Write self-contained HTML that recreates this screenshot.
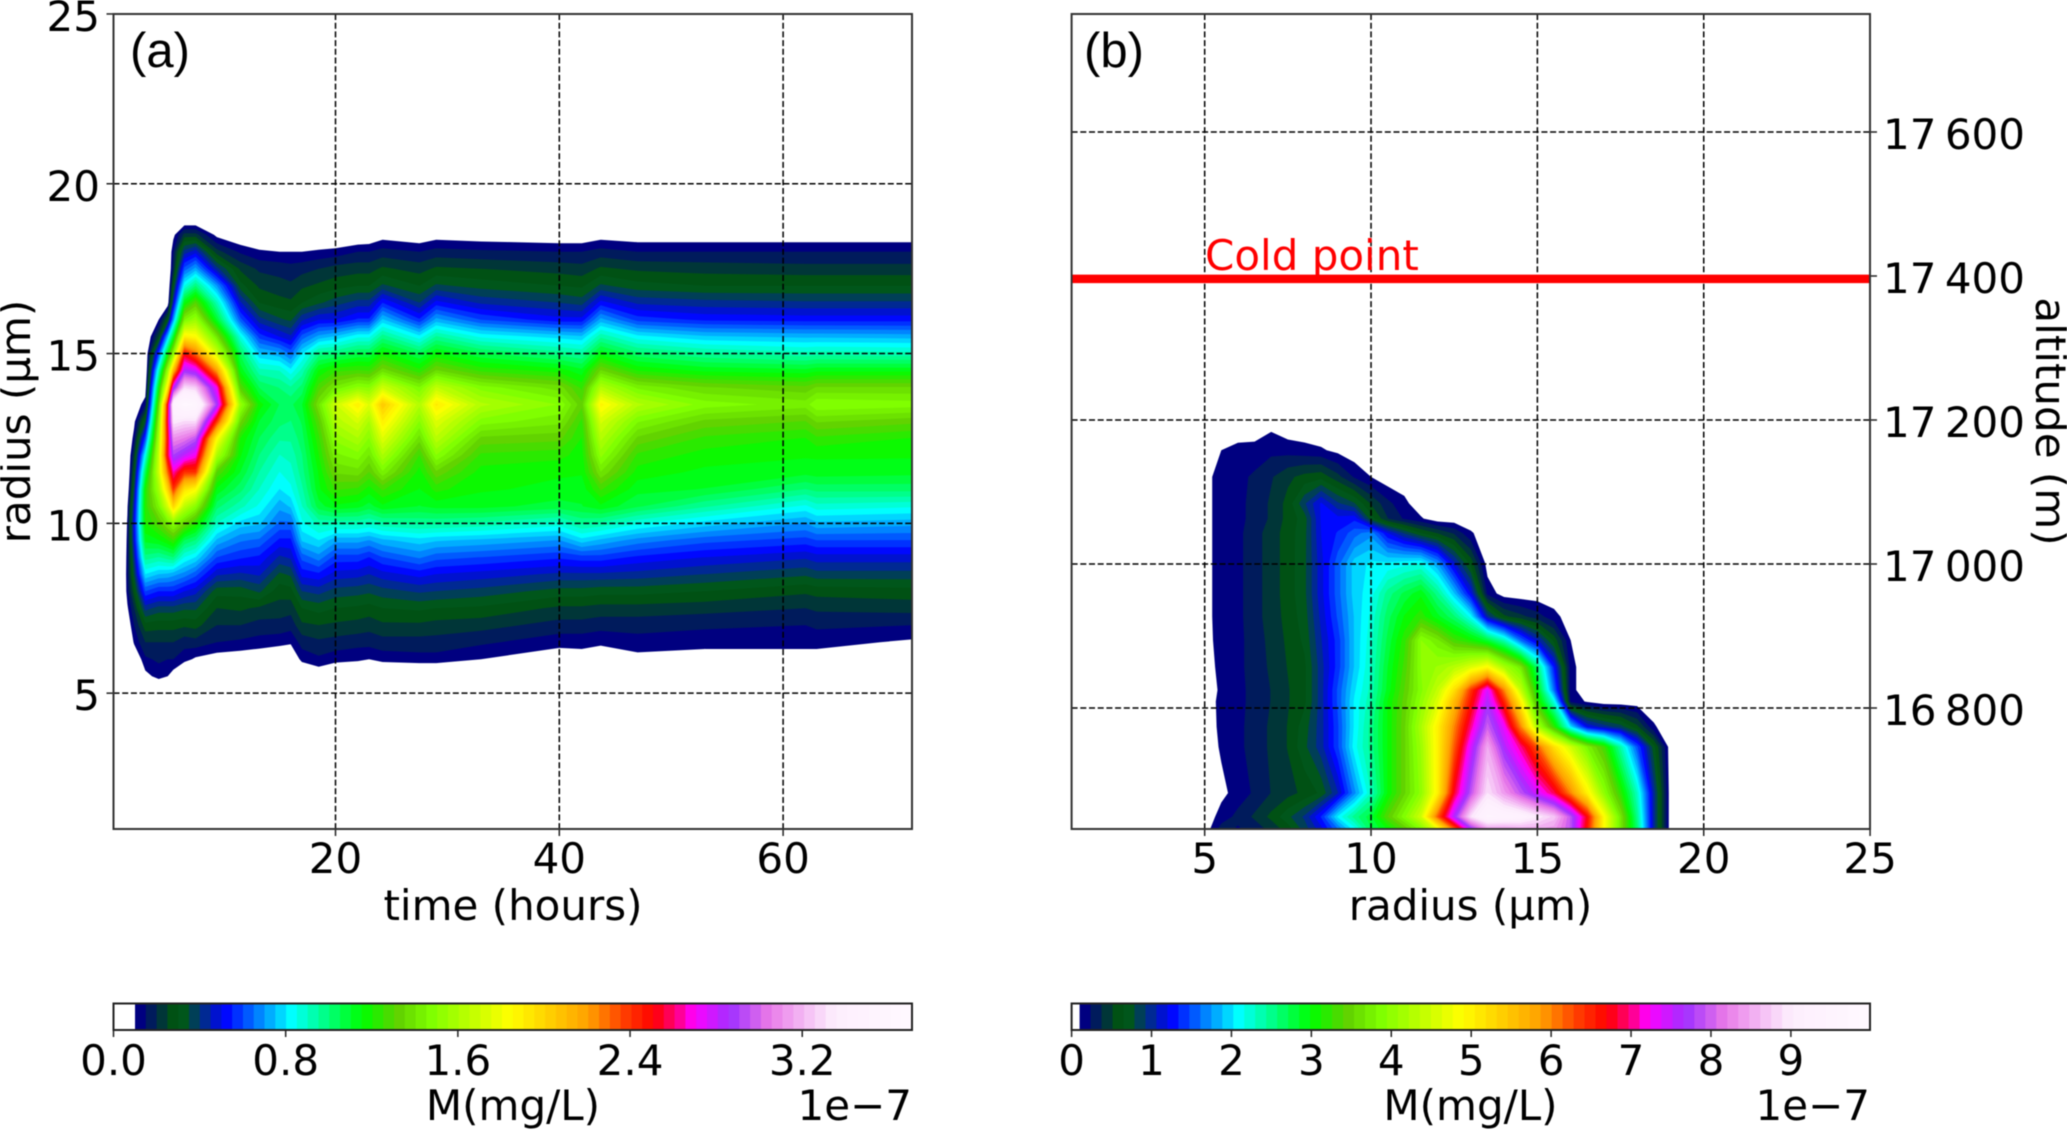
<!DOCTYPE html>
<html lang="en">
<head>
<meta charset="utf-8">
<title>Mass concentration contours</title>
<style>
html,body{margin:0;padding:0;background:#fff;}
svg{display:block;filter:blur(0.5px);}
text{font-family:"DejaVu Sans","Liberation Sans",sans-serif;font-size:42px;fill:#000;}
text.panel{font-family:"Liberation Sans",sans-serif;font-size:49px;}
</style>
</head>
<body>
<svg id="fig" xmlns="http://www.w3.org/2000/svg" width="2067" height="1130" viewBox="0 0 2067 1130">
<rect x="0" y="0" width="2067" height="1130" fill="#fff"/>
<defs>
<clipPath id="clip-a"><rect x="113.5" y="14" width="798.5" height="815"/></clipPath>
<clipPath id="clip-b"><rect x="1071.6" y="14" width="798.4" height="815"/></clipPath>
</defs>
<g id="plot-a" clip-path="url(#clip-a)"></g>
<g id="plot-b" clip-path="url(#clip-b)"></g>
<g id="overlay"></g>
<text class="panel" x="130" y="67">(a)</text>
<text class="panel" x="1084" y="67">(b)</text>
<text x="1205" y="270" fill="#ff0000" style="fill:#ff0000">Cold point</text>
<text x="513" y="920" text-anchor="middle">time (hours)</text>
<text x="1470.5" y="920" text-anchor="middle">radius (µm)</text>
<text transform="translate(30,421.5) rotate(-90)" text-anchor="middle">radius (µm)</text>
<text transform="translate(2036,421.5) rotate(90)" text-anchor="middle">altitude (m)</text>
<text x="513" y="1120" text-anchor="middle">M(mg/L)</text>
<text x="1470.5" y="1120" text-anchor="middle">M(mg/L)</text>
<text x="912" y="1120" text-anchor="end">1e−7</text>
<text x="1870" y="1120" text-anchor="end">1e−7</text>
</svg>
<script>
// ---------- Panel (a) data: M (1e-7 mg/L) by time column, radius row ----------
const radiiA = [5.5,6,6.5,7,7.5,8,8.5,9,9.5,10,10.5,11,11.5,12,12.5,13,13.5,14,14.5,15,15.5,16,16.5,17,17.5,18,18.5,19];
const timesA = [1,1.4,2,3,4.2,5,5.5,6.5,7.5,9.4,11.5,13.2,15,16,17,18.5,20,22,23,24.2,27.5,29,33,40,42,43.7,47,53,62,63,71.5];
const massA = [
[0,0,0,0,0,0,0,0,0,0,0,0,0,0,0,0,0,0,0,0,0,0,0,0,0,0,0,0],
[0,0,0,.05,.09,.13,.14,.13,.12,.11,.09,.03,0,0,0,0,0,0,0,0,0,0,0,0,0,0,0,0],
[0,.03,.11,.15,.2,.28,.36,.42,.48,.5,.45,.38,.3,.22,.13,.08,.03,0,0,0,0,0,0,0,0,0,0,0],
[.08,.14,.2,.28,.42,.6,.8,.98,1.12,1.2,1.22,1.2,1.05,.85,.6,.35,.14,.05,0,0,0,0,0,0,0,0,0,0],
[.12,.16,.2,.27,.38,.55,.75,.95,1.15,1.3,1.45,1.58,1.7,1.68,1.6,1.5,1.35,1.15,.9,.6,.25,.1,0,0,0,0,0,0],
[.1,.15,.2,.27,.38,.55,.74,.98,1.2,1.42,1.72,2.0,2.3,2.55,2.5,2.55,2.5,1.9,1.55,1.15,.75,.3,.05,0,0,0,0,0],
[.07,.15,.2,.27,.38,.55,.72,1.0,1.25,1.5,2.0,2.4,2.65,2.9,3.1,3.35,3.5,2.8,2.1,1.5,1.1,.7,.45,.3,.18,.15,.08,0],
[0,.12,.17,.26,.36,.5,.68,.85,1.05,1.35,1.65,1.95,2.4,2.8,3.05,3.3,3.65,3.3,2.85,2.5,1.9,1.45,1.15,.85,.62,.42,.22,0],
[0,.09,.18,.27,.36,.47,.62,.8,1.0,1.22,1.5,1.85,2.4,2.7,2.95,3.3,3.6,3.25,2.78,2.3,1.85,1.55,1.3,1.0,.72,.48,.22,0],
[0,.07,.15,.2,.25,.32,.46,.6,.74,.9,1.02,1.14,1.3,1.6,1.85,2.4,2.88,2.7,2.2,1.7,1.4,1.1,.92,.7,.42,.22,.08,0],
[0,.06,.14,.2,.26,.32,.44,.56,.66,.78,.92,1.02,1.1,1.16,1.2,1.36,1.55,1.3,1.14,1.04,.86,.62,.46,.32,.24,.14,.04,0],
[0,.05,.13,.18,.24,.36,.46,.54,.64,.76,.84,.9,.95,1.0,1.05,1.1,1.18,1.05,.92,.76,.58,.42,.3,.24,.19,.11,.02,0],
[0,.03,.12,.18,.23,.27,.34,.44,.54,.64,.72,.8,.85,.9,.96,1.02,1.05,1.0,.9,.72,.5,.36,.27,.22,.18,.1,.02,0],
[0,.03,.11,.17,.22,.28,.36,.46,.54,.64,.76,.84,.88,.92,.96,1.0,1.04,.96,.82,.64,.46,.34,.26,.21,.17,.1,.02,0],
[0,.12,.17,.24,.3,.4,.52,.62,.76,.84,.9,.94,.98,1.0,1.03,1.06,1.1,1.02,.92,.8,.62,.44,.3,.24,.18,.1,.02,0],
[.05,.14,.19,.25,.32,.42,.54,.68,.8,.92,1.08,1.14,1.16,1.2,1.24,1.3,1.4,1.28,1.16,.98,.72,.5,.34,.26,.2,.11,.02,0],
[.02,.12,.18,.24,.3,.38,.48,.58,.72,.92,1.14,1.26,1.36,1.44,1.52,1.62,1.7,1.42,1.24,1.0,.76,.5,.38,.28,.22,.12,.02,0],
[.02,.11,.17,.23,.29,.37,.47,.58,.72,.92,1.12,1.24,1.38,1.48,1.6,1.72,1.9,1.52,1.26,1.06,.84,.56,.42,.3,.23,.15,.03,0],
[.03,.1,.17,.22,.28,.36,.45,.55,.7,.9,1.08,1.18,1.3,1.4,1.5,1.6,1.75,1.5,1.25,1.06,.84,.56,.42,.3,.23,.15,.04,0],
[0,.12,.18,.24,.3,.38,.48,.6,.74,.94,1.14,1.26,1.44,1.6,1.75,1.9,2.05,1.7,1.38,1.18,.98,.76,.55,.36,.26,.17,.07,0],
[0,.13,.18,.24,.31,.41,.52,.66,.78,.96,1.1,1.15,1.18,1.25,1.38,1.5,1.62,1.46,1.22,1.05,.82,.56,.4,.3,.23,.15,.05,0],
[0,.13,.18,.23,.3,.4,.5,.62,.76,.96,1.12,1.22,1.34,1.5,1.64,1.75,1.92,1.66,1.36,1.16,.96,.72,.52,.36,.26,.17,.07,0],
[0,.1,.16,.22,.29,.38,.48,.6,.74,.94,1.12,1.16,1.18,1.24,1.34,1.48,1.62,1.48,1.24,1.06,.84,.6,.44,.33,.25,.16,.06,0],
[0,.06,.12,.18,.24,.33,.44,.56,.7,.88,1.08,1.14,1.16,1.22,1.32,1.42,1.5,1.38,1.18,.98,.78,.52,.4,.3,.23,.15,.05,0],
[0,.07,.12,.18,.24,.33,.44,.58,.78,.96,1.1,1.12,1.16,1.18,1.2,1.24,1.32,1.24,1.12,.95,.76,.52,.38,.29,.22,.15,.05,0],
[0,.06,.11,.17,.23,.32,.44,.58,.74,.94,1.14,1.26,1.4,1.52,1.62,1.72,1.88,1.62,1.36,1.14,.94,.72,.52,.36,.26,.17,.07,0],
[0,.08,.13,.17,.23,.32,.43,.54,.68,.86,1.06,1.12,1.18,1.24,1.34,1.46,1.62,1.44,1.2,1.02,.82,.58,.44,.32,.24,.15,.06,0],
[0,.07,.12,.16,.22,.3,.4,.5,.62,.78,.96,1.1,1.14,1.18,1.24,1.34,1.48,1.36,1.14,.96,.76,.54,.42,.3,.23,.15,.06,0],
[0,.07,.12,.15,.2,.26,.36,.46,.58,.7,.84,1.0,1.12,1.16,1.2,1.3,1.43,1.32,1.12,.92,.74,.53,.41,.3,.22,.15,.06,0],
[0,.07,.12,.16,.21,.27,.38,.48,.6,.74,.88,1.02,1.13,1.16,1.24,1.36,1.5,1.36,1.14,.93,.74,.53,.41,.3,.22,.15,.06,0],
[0,.03,.09,.15,.22,.28,.38,.48,.6,.72,.86,1.02,1.12,1.16,1.2,1.32,1.48,1.36,1.14,.92,.73,.53,.41,.3,.22,.15,.06,0]
];
// ---------- Panel (b) data: M (1e-7 mg/L) by altitude row, radius column ----------
const radiiB = [5,5.5,6,6.5,7,7.5,8,8.5,9,9.5,10,10.5,11,11.5,12,12.5,13,13.5,14,14.5,15,15.5,16,16.5,17,17.5,18,18.5,19];
const altitudesB = [16632,16649,16682,16746,16774,16809,16825,16857,16894,16927,16959,17001,17043,17063,17084,17121,17158,17186,17210];
const massB = [
[0,.3,.22,.3,.42,.58,.85,1.15,1.6,2.1,2.7,3.0,3.4,3.9,4.7,6.2,7.6,8.4,8.4,8.5,8.5,8.4,7.9,6.6,4.9,3.7,2.6,1.0,0],
[0,.16,.28,.4,.55,.75,.95,1.35,2.05,2.5,2.8,3.4,3.9,4.5,6.2,7.6,8.9,9.5,9.4,9.3,9.0,8.7,7.9,6.7,4.9,3.7,2.5,1.0,0],
[0,.06,.16,.26,.38,.46,.55,.68,1.05,1.7,2.3,3.0,3.5,4.0,5.0,6.8,7.9,8.9,8.4,7.9,7.4,6.9,6.0,5.0,4.0,3.2,2.3,1.0,0],
[0,.12,.2,.3,.4,.52,.75,1.0,1.45,2.1,2.5,3.0,3.5,4.1,5.0,6.2,7.4,8.5,7.6,7.0,6.2,5.2,4.5,3.8,3.3,2.4,1.5,.7,0],
[0,.14,.2,.3,.4,.52,.72,1.0,1.45,2.05,2.5,3.0,3.5,4.2,5.0,6.0,7.0,8.0,7.3,6.0,4.2,3.2,2.0,1.2,1.0,.85,.55,.12,0],
[0,.15,.2,.28,.38,.5,.62,1.0,1.5,2.05,2.4,3.0,3.45,4.0,4.6,5.6,6.6,7.6,6.5,5.0,3.2,2.2,.2,.08,0,0,0,0,0],
[0,.13,.2,.28,.38,.5,.62,1.0,1.5,2.0,2.35,2.9,3.4,3.9,4.4,5.2,6.4,7.4,6.0,4.4,3.0,1.6,.15,0,0,0,0,0,0],
[0,.16,.2,.3,.4,.52,.62,1.0,1.4,1.9,2.3,2.85,3.3,3.95,4.1,4.3,4.6,4.9,4.2,3.7,2.6,1.3,.15,0,0,0,0,0,0],
[0,.2,.2,.3,.42,.54,.68,1.05,1.4,1.9,2.25,2.75,3.2,3.95,3.7,3.3,3.1,2.8,2.35,1.6,1.1,.6,.1,0,0,0,0,0,0],
[0,.22,.2,.32,.44,.56,.72,1.1,1.5,1.9,2.2,2.65,3.0,3.2,2.9,2.6,2.1,1.0,.55,.42,.3,.15,.02,0,0,0,0,0,0],
[0,.22,.2,.32,.44,.58,.75,1.15,1.55,1.95,2.1,2.5,2.75,2.95,2.5,1.9,1.2,.2,.02,0,0,0,0,0,0,0,0,0,0],
[0,.22,.2,.32,.44,.58,.75,1.15,1.55,1.95,2.05,2.05,2.1,2.15,1.75,1.1,.6,.02,0,0,0,0,0,0,0,0,0,0,0],
[0,.22,.2,.32,.44,.58,.74,1.2,1.35,1.55,1.7,1.2,.9,.65,.5,.35,.12,0,0,0,0,0,0,0,0,0,0,0,0],
[0,.22,.2,.28,.4,.56,.72,1.22,1.25,1.3,.72,.38,.22,.12,0,0,0,0,0,0,0,0,0,0,0,0,0,0,0],
[0,.22,.2,.28,.4,.56,.9,1.22,.95,.8,.5,.28,.14,0,0,0,0,0,0,0,0,0,0,0,0,0,0,0,0],
[0,.22,.2,.26,.36,.48,.56,.6,.42,.22,.1,0,0,0,0,0,0,0,0,0,0,0,0,0,0,0,0,0,0],
[0,.1,.13,.16,.2,.18,.15,.12,.06,0,0,0,0,0,0,0,0,0,0,0,0,0,0,0,0,0,0,0,0],
[0,0,.05,.02,.09,.03,.02,0,0,0,0,0,0,0,0,0,0,0,0,0,0,0,0,0,0,0,0,0,0],
[0,0,0,0,0,0,0,0,0,0,0,0,0,0,0,0,0,0,0,0,0,0,0,0,0,0,0,0,0]
];
// ---------- Axis ticks and labels ----------
const timeTicksA = [20,40,60];
const radiusTicksA = [5,10,15,20,25];
const radiusTicksB = [5,10,15,20,25];
const altitudeTicksB = [16800,17000,17200,17400,17600];
const altitudeLabelsB = ["16\u2009800","17\u2009000","17\u2009200","17\u2009400","17\u2009600"];
const coldPointAltitude = 17396;
const barTicksA = [0,0.8,1.6,2.4,3.2];
const barLabelsA = ["0.0","0.8","1.6","2.4","3.2"];
const barTicksB = [0,1,2,3,4,5,6,7,8,9];
const barLabelsB = ["0","1","2","3","4","5","6","7","8","9"];
const levelMin = 0.1;
const vmaxA = 3.71;
const vmaxB = 9.99;
const levelCount = 72;
// Colormap stops
const cmapPos = [0,.05,.11,.197,.29,.335,.38,.482,.585,.63,.67,.70,.722,.77,.82,.87,.905,1];
const cmapHex = ["000080","006000","0000ff","00ffff","00ff00","60d000","80ff00","ffff00","ffa000","ff4000","ff0000","ff0080","ff00ff","a030ff","e878e8","f5c0f5","fdeefd","fff8ff"];

const NS = "http://www.w3.org/2000/svg";
function mk(tag, attrs, parent){
  const e = document.createElementNS(NS, tag);
  for (const k in attrs) e.setAttribute(k, attrs[k]);
  parent.appendChild(e);
  return e;
}
function cmap(t){
  let i = 0;
  while (i < cmapPos.length-2 && t > cmapPos[i+1]) i++;
  const f = Math.min(1, Math.max(0, (t-cmapPos[i])/(cmapPos[i+1]-cmapPos[i])));
  const a = parseInt(cmapHex[i],16), b = parseInt(cmapHex[i+1],16);
  const ch = s => Math.round(((a>>s)&255)*(1-f) + ((b>>s)&255)*f);
  return "rgb("+ch(16)+","+ch(8)+","+ch(0)+")";
}
// Axis functions
const xTimeA = t => 113.5 + (t-0.16)*11.19;
const yRadiusA = r => 829 - (r-1)*33.96;
const xRadiusB = r => 1071.6 + (r-1)*33.27;
const yAltB = a => 564 - (a-17000)*0.72;
const xBarA = v => 113.5 + v/vmaxA*798.5;
const xBarB = v => 1071.6 + v/vmaxB*798.4;

// Region v >= L inside one grid cell, as a path fragment
function cellPath(xs, ys, vs, L){
  let d = "", n = 0;
  for (let k=0;k<4;k++){
    const m=(k+1)%4, va=vs[k], vb=vs[m];
    if (va>=L){ d += (n++?"L":"M")+xs[k].toFixed(1)+" "+ys[k].toFixed(1); }
    if ((va>=L)!==(vb>=L)){
      const f=(L-va)/(vb-va);
      d += (n++?"L":"M")+(xs[k]+(xs[m]-xs[k])*f).toFixed(1)+" "+(ys[k]+(ys[m]-ys[k])*f).toFixed(1);
    }
  }
  return n>2 ? d+"Z" : "";
}
function contourf(parent, px, py, val, vmax, bandName){
  const step=(vmax-levelMin)/levelCount;
  for (let k=0;k<levelCount;k++){
    const L=levelMin+k*step;
    let d="";
    for (let i=0;i<px.length-1;i++) for (let j=0;j<py.length-1;j++){
      const vs=[val(i,j),val(i+1,j),val(i+1,j+1),val(i,j+1)];
      if (Math.max(vs[0],vs[1],vs[2],vs[3])<L) continue;
      d+=cellPath([px[i],px[i+1],px[i+1],px[i]],[py[j],py[j],py[j+1],py[j+1]],vs,L);
    }
    if(!d) continue;
    const p=mk("path",{d:d,fill:cmap(k/(levelCount-1))},parent);
    
    
  }
}
// Panel (a): padded with a zero row at r = 5
const pxA = timesA.map(xTimeA);
const pyA = [5].concat(radiiA).map(yRadiusA);
contourf(document.getElementById("plot-a"), pxA, pyA, (i,j)=> j===0 ? 0 : (massA[i][j-1]||0), vmaxA, 'contour-band-a');
// Panel (b)
const pxB = radiiB.map(xRadiusB);
const pyB = altitudesB.map(yAltB);
contourf(document.getElementById("plot-b"), pxB, pyB, (i,j)=> (massB[j][i]||0), vmaxB, 'contour-band-b');

const ov = document.getElementById("overlay");
const DASH = {stroke:"#000","stroke-width":1.5,"stroke-dasharray":"6 2.7",fill:"none"};
const TICK = {stroke:"#222","stroke-width":1.5};
function dashed(x1,y1,x2,y2){ return mk("line",Object.assign({x1,y1,x2,y2},DASH),ov); }
function tick(x1,y1,x2,y2){ return mk("line",Object.assign({x1,y1,x2,y2},TICK),ov); }
function label(x,y,str,anchor){
  const t=mk("text",{x,y,"text-anchor":anchor},ov);
  t.textContent=str;
  return t;
}
// Panel (a) axes
const topY=14, botY=829, leftA=113.5, rightA=912, leftB=1071.6, rightB=1870;
timeTicksA.forEach(v=>{
  const x=xTimeA(v);
  const g=dashed(x,topY,x,botY);
  
  
  const m=tick(x,botY,x,botY+7);
  
  
  const t=label(x,873,String(v),"middle");
  
  
});
radiusTicksA.forEach(v=>{
  const y=yRadiusA(v);
  const g=dashed(leftA,y,rightA,y);
  
  
  const m=tick(leftA-7,y,leftA,y);
  
  
  const t=label(100,y+17,String(v),"end");
  
  
});
// Panel (b) axes
radiusTicksB.forEach(v=>{
  const x=xRadiusB(v);
  const g=dashed(x,topY,x,botY);
  
  
  const m=tick(x,botY,x,botY+7);
  
  
  const t=label(x,873,String(v),"middle");
  
  
});
altitudeTicksB.forEach((v,i)=>{
  const y=yAltB(v);
  const g=dashed(leftB,y,rightB,y);
  
  
  const m=tick(rightB,y,rightB+7,y);
  
  
  const t=label(1883,y+17,altitudeLabelsB[i],"start");
  
  
});
// Cold point line
const cpLine=mk("line",{x1:leftB,x2:rightB,y1:yAltB(coldPointAltitude),y2:yAltB(coldPointAltitude),stroke:"#ff0000","stroke-width":8.5},ov);


// Frames
const frameA=mk("rect",{x:leftA,y:topY,width:rightA-leftA,height:botY-topY,fill:"none",stroke:"#333","stroke-width":2},ov);


const frameB=mk("rect",{x:leftB,y:topY,width:rightB-leftB,height:botY-topY,fill:"none",stroke:"#333","stroke-width":2},ov);


// Colorbars
function colorbar(xf, vmax, ticks, labels, left, right, barName, tickName, labelName, frameName){
  const bt=1003.5, bb=1030;
  const step=(vmax-levelMin)/levelCount;
  for(let k=0;k<levelCount;k++){
    const x0=xf(levelMin+k*step), x1=xf(levelMin+(k+1)*step);
    const r=mk("rect",{x:x0,y:bt,width:x1-x0+0.6,height:bb-bt,fill:cmap(k/(levelCount-1))},ov);
    
    
  }
  const f=mk("rect",{x:left,y:bt,width:right-left,height:bb-bt,fill:"none",stroke:"#222","stroke-width":2},ov);
  
  
  ticks.forEach((v,i)=>{
    const x=xf(v);
    const m=tick(x,bb,x,bb+7);
    
    
    const t=label(x,1075,labels[i],"middle");
    
    
  });
}
colorbar(xBarA,vmaxA,barTicksA,barLabelsA,leftA,rightA,'colorbar-a-band','colorbar-a-tick','colorbar-a-tick-label','colorbar-a-frame');
colorbar(xBarB,vmaxB,barTicksB,barLabelsB,leftB,rightB,'colorbar-b-band','colorbar-b-tick','colorbar-b-tick-label','colorbar-b-frame');
</script>
</body>
</html>
